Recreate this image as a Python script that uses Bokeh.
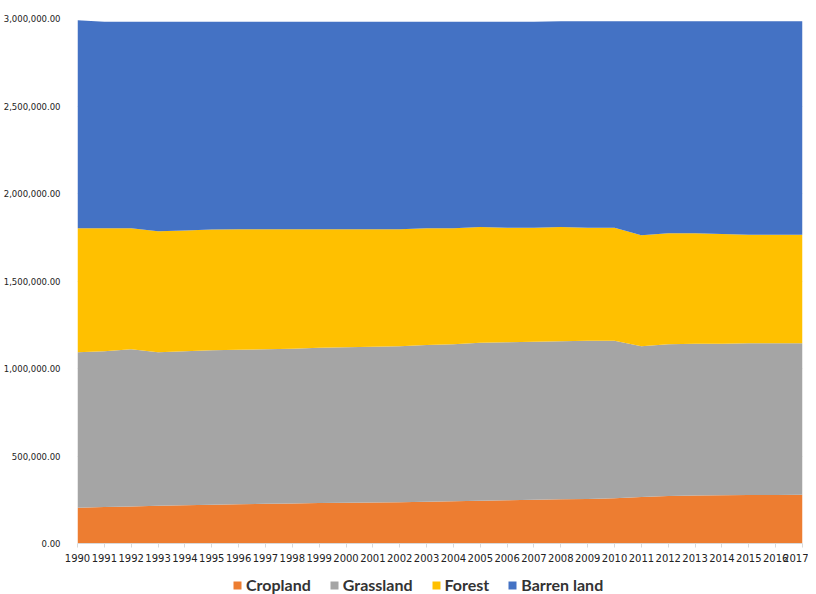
from bokeh.plotting import figure
from bokeh.layouts import column
from bokeh.models import (ColumnDataSource, FixedTicker, NumeralTickFormatter,
                          Legend, LegendItem, Range1d)
from bokeh.embed import file_html
from bokeh.resources import INLINE

years = list(range(1990, 2018))
cropland = [205, 209, 212, 216, 218, 221, 224, 227, 229, 231, 233, 234, 236, 239,
            242, 245, 247, 250, 253, 255, 258, 266, 272, 275, 276, 277, 277, 278]
grassland = [888, 889, 898, 877, 880, 883, 883, 883, 884, 887, 888, 890, 891, 896,
             896, 902, 903, 903, 903, 903, 900, 861, 866, 866, 865, 867, 867, 866]
forest = [709, 704, 692, 692, 690, 691, 689, 686, 683, 678, 675, 672, 669, 667,
          664, 661, 655, 652, 652, 647, 647, 635, 635, 632, 627, 621, 621, 621]
barren = [1188, 1180, 1180, 1197, 1194, 1187, 1186, 1186, 1186, 1186, 1186, 1186, 1186, 1180,
          1180, 1174, 1177, 1177, 1177, 1180, 1180, 1223, 1212, 1212, 1217, 1220, 1220, 1220]
series_names = ["Cropland", "Grassland", "Forest", "Barren land"]
colors = ["#ED7D31", "#A5A5A5", "#FFC000", "#4472C4"]
y_ticks = [0, 500000, 1000000, 1500000, 2000000, 2500000, 3000000]

data = {"year": years,
        "Cropland": [v * 1000 for v in cropland],
        "Grassland": [v * 1000 for v in grassland],
        "Forest": [v * 1000 for v in forest],
        "Barren land": [v * 1000 for v in barren]}
src = ColumnDataSource(data)

p = figure(width=808, height=567, output_backend="svg", toolbar_location=None,
           x_range=Range1d(1990, 2017), y_range=Range1d(0, 3000000),
           min_border_left=70, min_border_right=6, min_border_top=18, min_border_bottom=24)
p.outline_line_color = None
p.background_fill_color = "white"

renderers = p.varea_stack(stackers=series_names, x="year", color=colors, source=src)

p.xgrid.grid_line_color = None
p.ygrid.grid_line_color = "#D9D9D9"
p.ygrid.ticker = FixedTicker(ticks=y_ticks)

p.yaxis.ticker = FixedTicker(ticks=y_ticks)
p.yaxis.formatter = NumeralTickFormatter(format="0,0.00")
p.yaxis.axis_line_color = None
p.yaxis.major_tick_line_color = None
p.yaxis.minor_tick_line_color = None
p.yaxis.major_label_text_font = "DejaVu Sans"
p.yaxis.major_label_text_font_size = "8.5px"
p.yaxis.major_label_text_color = "#222222"
p.yaxis.major_label_standoff = 11

p.xaxis.ticker = FixedTicker(ticks=years)
p.xaxis.axis_line_color = "#D9D9D9"
p.xaxis.major_tick_line_color = "#D9D9D9"
p.xaxis.major_tick_in = 0
p.xaxis.major_tick_out = 4
p.xaxis.minor_tick_line_color = None
p.xaxis.major_label_text_font = "DejaVu Sans"
p.xaxis.major_label_text_font_size = "10px"
p.xaxis.major_label_text_color = "#222222"
p.xaxis.major_label_standoff = 6

# Legend strip below the chart: same stacked areas, kept outside its visible range,
# only so that the legend can draw its coloured swatches.
lg = figure(width=808, height=27, output_backend="svg", toolbar_location=None,
            x_range=Range1d(0, 1), y_range=Range1d(0, 1),
            x_axis_type=None, y_axis_type=None,
            min_border_left=0, min_border_right=0, min_border_top=0, min_border_bottom=0)
lg.outline_line_color = None
lg.xgrid.grid_line_color = None
lg.ygrid.grid_line_color = None
legend_renderers = lg.varea_stack(stackers=series_names, x="year", color=colors, source=src)

items = [LegendItem(label=n, renderers=[r]) for n, r in zip(series_names, legend_renderers)]
legend = Legend(items=items, orientation="horizontal", location=(155, 0),
                label_text_font="Lato", label_text_font_size="16px",
                label_text_font_style="bold", label_text_color="#333333",
                glyph_width=10, glyph_height=10, spacing=18, label_standoff=4,
                label_height=18,
                border_line_color=None, background_fill_alpha=0,
                padding=0, margin=0)
lg.add_layout(legend, "center")

layout = column(p, lg, spacing=0)
open("out.html", "w").write(file_html(layout, INLINE))
